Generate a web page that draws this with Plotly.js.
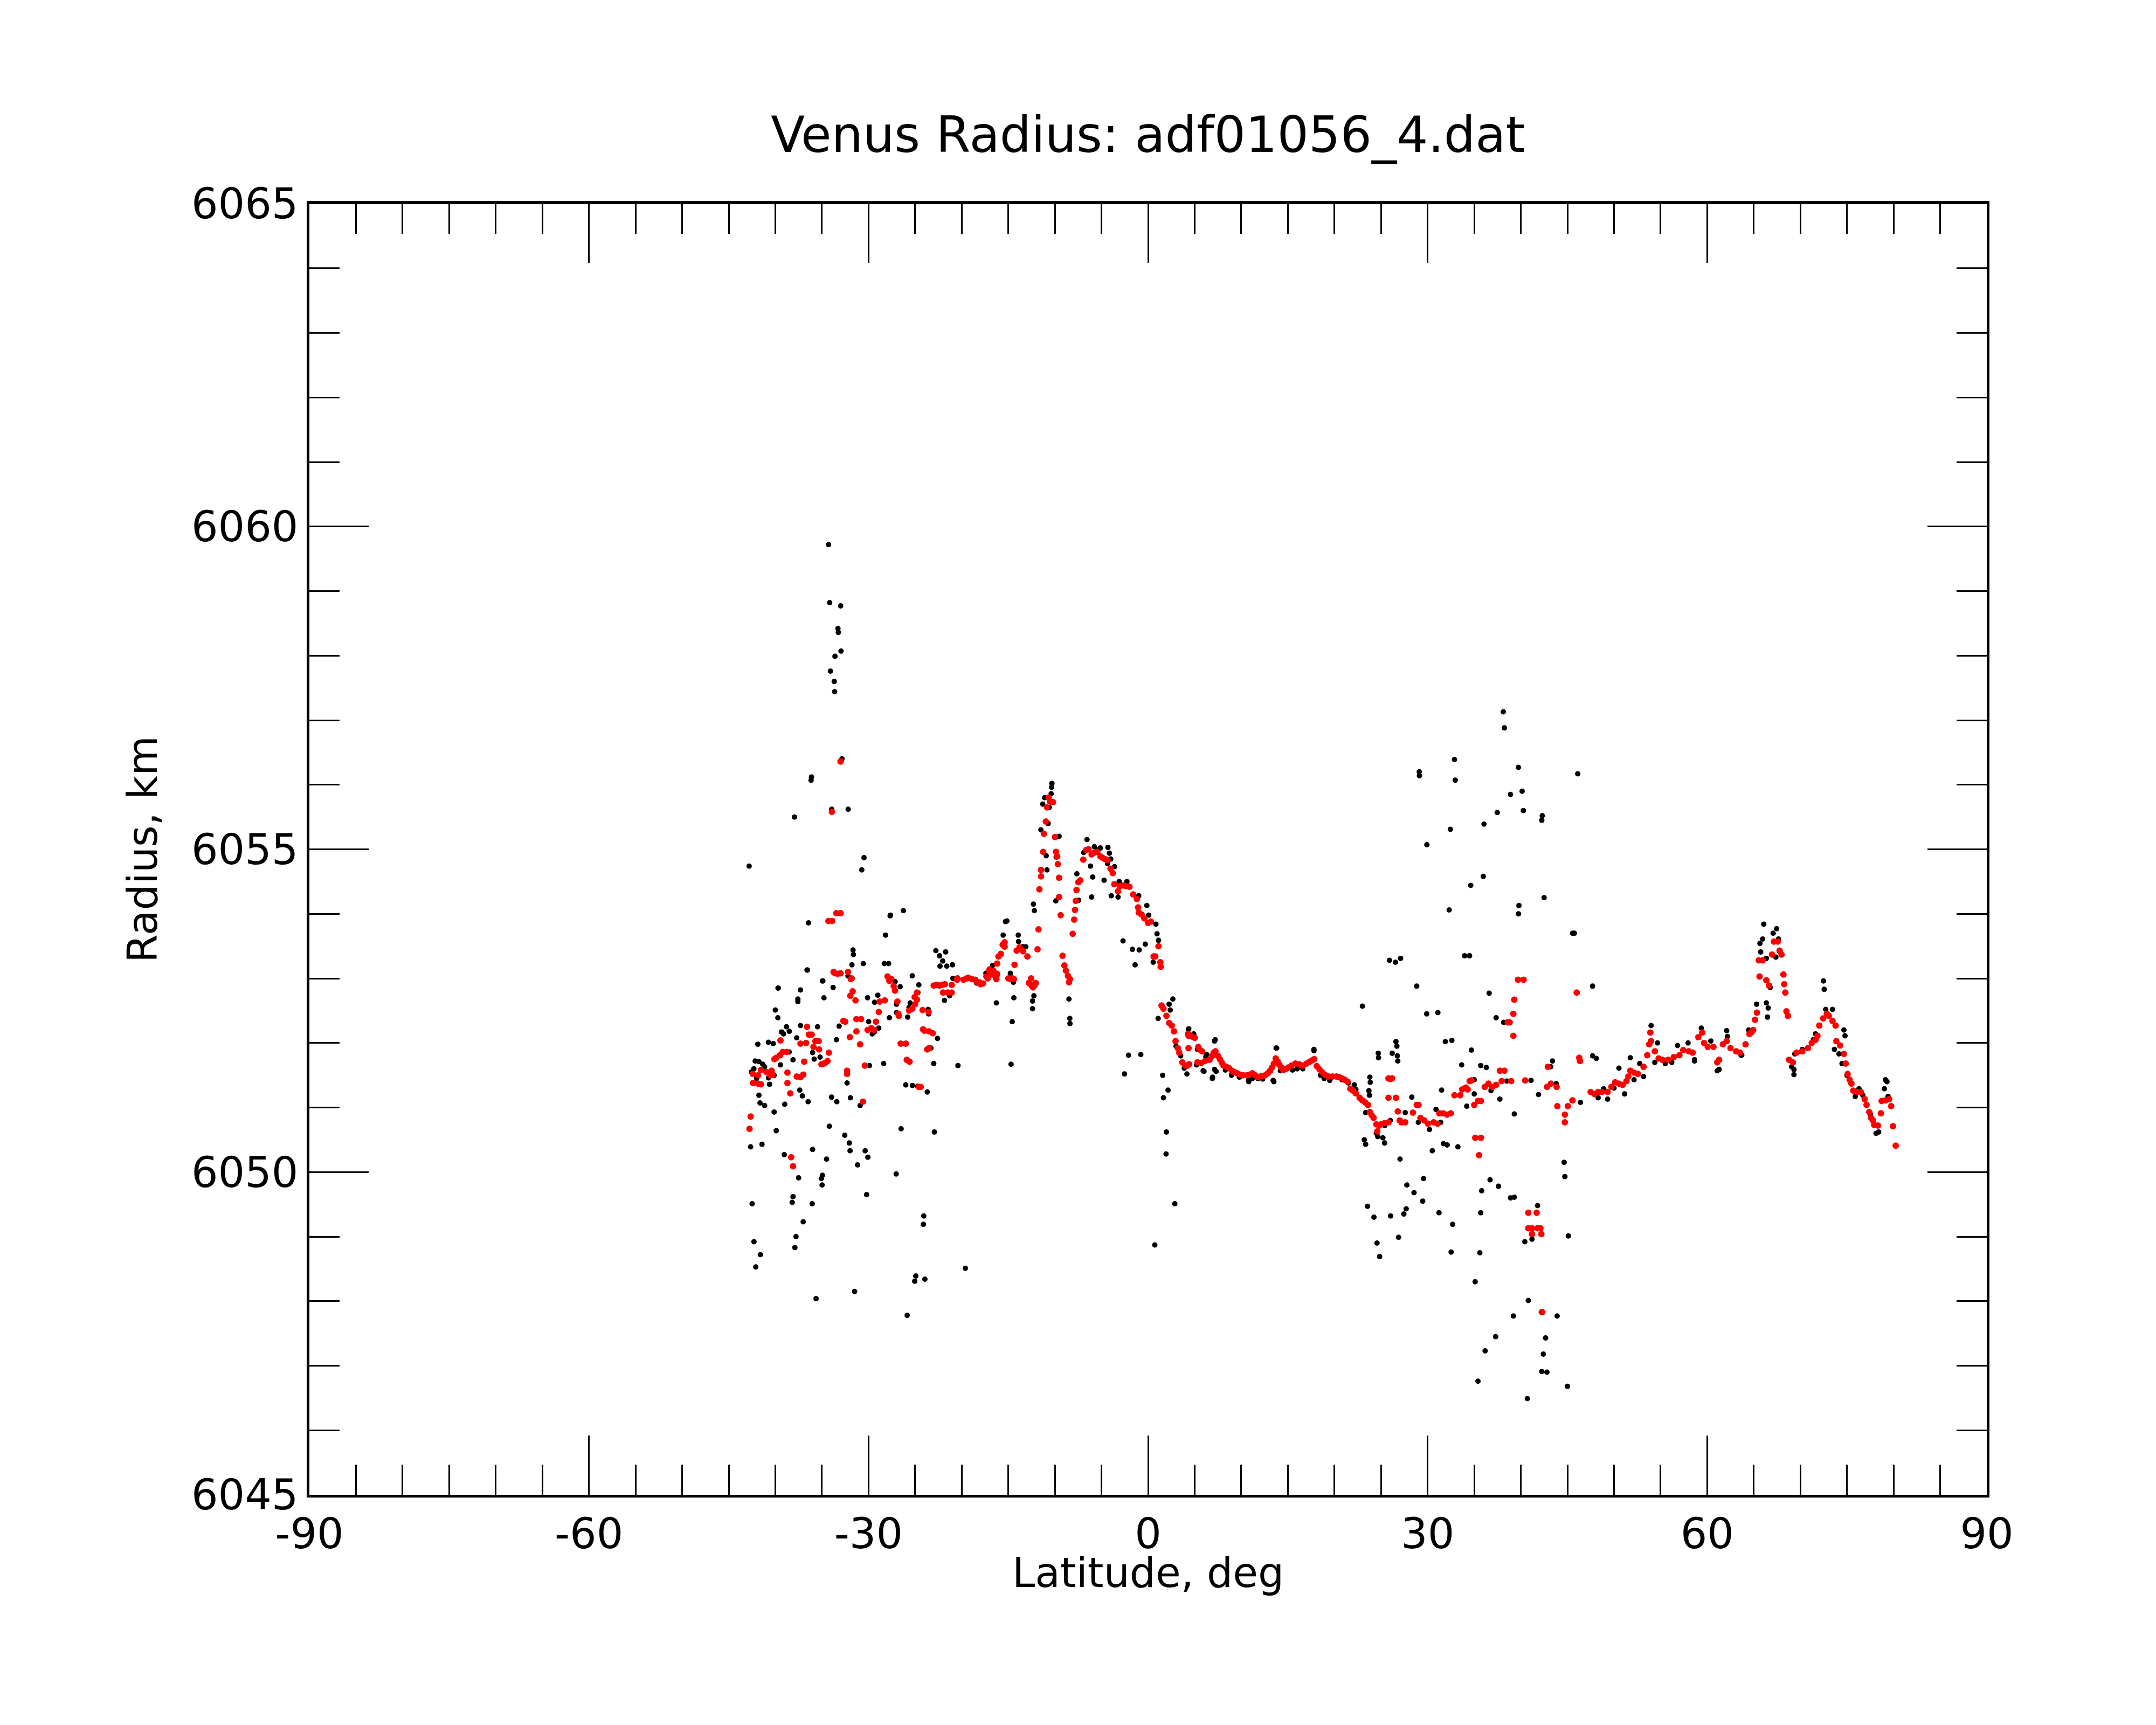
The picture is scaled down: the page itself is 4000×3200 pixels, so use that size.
<!DOCTYPE html>
<html>
<head>
<meta charset="utf-8">
<script src="https://cdn.plot.ly/plotly-3.0.1.min.js"></script>
<style>body{margin:0;background:#fff}</style>
</head>
<body>
<div id="chart" style="width:4000px;height:3200px"></div>
<script>
// Axis ticks
var latTicks = [-90, -60, -30, 0, 30, 60, 90]
var latTickText = ['-90', '-60', '-30', '0', '30', '60', '90']
var radTicks = [6045, 6050, 6055, 6060, 6065]

// Raw radius samples [latitude deg, radius km] (black)
var blackSouth = [
  [-34.29,6059.72],[-34.17,6058.82],[-32.99,6058.77],[-33.28,6058.42],[-33.24,6058.36],[-32.95,6058.07],[-33.6,6057.99],[-34.09,6057.76],[-33.68,6057.6],[-33.64,6057.44],[-32.85,6056.4],[-36.16,6056.07],[-36.12,6056.12],[-33.95,6055.62],[-32.18,6055.62],[-37.94,6055.5],[-42.81,6054.74],[-30.48,6054.87],[-30.72,6054.68],
  [-36.44,6053.86],[-27.68,6053.97],[-26.26,6054.05],[-28.17,6053.67],[-27.64,6053.98],[-31.66,6053.44],[-31.62,6053.37],[-31.78,6053.21],[-30.56,6053.23],[-28.3,6053.23],[-27.84,6053.23],[-22.77,6053.43],[-21.72,6053.41],[-22.37,6053.35],[-22.04,6053.27],[-20.99,6053.21],[-22.33,6053.19],[-21.6,6053.19],[-36.6,6053.13],[-36.55,6053.13],[-34.9,6052.96],[-39.71,6052.85],[-37.3,6052.82],[-25.3,6053.04],
  [-32.2,6053.04],[-34.94,6052.96],[-33.8,6052.86],[-39.69,6052.85],[-37.58,6052.68],[-37.58,6052.64],[-34.78,6052.7],[-30.1,6052.7],[-29.0,6052.74],[-29.35,6052.63],[-27.15,6052.95],[-26.6,6052.87],[-24.6,6052.9],[-24.7,6052.78],[-25.53,6052.62],[-25.65,6052.55],[-23.6,6052.52],[-23.55,6052.45],[-27.76,6052.39],[-27.0,6052.47],[-21.85,6052.66],[-21.3,6052.73],[-20.95,6053.0],
  [-40.0,6052.51],[-39.73,6052.39],[-37.3,6052.27],[-35.47,6052.25],[-37.7,6052.08],[-38.1,6051.74],[-35.83,6051.75],[-33.44,6052.05],[-33.15,6052.26],[-39.12,6052.14],[-39.33,6052.17],[-38.8,6052.25],[-38.5,6052.18],[-40.22,6051.99],[-40.74,6052.01],[-41.88,6051.98],[-38.51,6051.86],[-39.45,6051.66],[-42.57,6051.55],[-42.16,6051.72],[-41.76,6051.71],[-41.35,6051.67],[-41.15,6051.63],[-40.54,6051.52],[-40.13,6051.5],[-40.74,6051.46],[-40.62,6051.36],[-37.38,6051.27],[-37.1,6051.18],[-36.48,6051.09],[-41.76,6051.19],[-41.64,6051.07],[-41.15,6051.03],[-40.13,6050.93],[-38.99,6051.05],[-29.98,6052.33],[-29.38,6052.17],[-28.9,6052.23],[-29.6,6052.14],[-32.3,6051.38],[-29.9,6051.65],[-28.37,6051.68],[-26.0,6051.35],[-25.28,6051.34],[-24.72,6051.33],[-23.7,6051.24],[-23.0,6051.68],[-23.3,6051.92],[-22.6,6052.07],[-20.4,6051.65],[-30.9,6051.03],[-33.97,6051.16],[-33.4,6051.09],[-31.94,6051.15],[-27.0,6052.6],[-25.8,6052.4],[-42.3,6051.6],[-42.0,6051.45],[-36.0,6051.85],[-35.2,6051.78],
  [-42.65,6050.39],[-39.9,6050.64],[-41.43,6050.43],[-39.04,6050.27],[-37.5,6049.91],[-36.0,6050.35],[-34.2,6050.71],[-34.5,6050.2],[-32.55,6050.57],[-32.06,6050.45],[-31.98,6050.33],[-30.36,6050.33],[-30.07,6050.23],[-31.17,6050.11],[-34.94,6049.95],[-35.06,6049.9],[-34.98,6049.8],[-26.5,6050.67],[-22.93,6050.62],[-27.03,6049.97],[-38.1,6049.62],[-38.19,6049.53],[-42.49,6049.51],[-36.04,6049.51],[-30.2,6049.65],[-37.01,6049.23],[-37.78,6049.0],[-37.9,6048.83],[-42.29,6048.92],[-41.6,6048.72],[-42.1,6048.53],[-24.07,6049.32],[-24.11,6049.19],[-24.93,6048.39],[-25.04,6048.31],[-23.95,6048.34],[-31.49,6048.15],[-35.63,6048.04],[-25.85,6047.78]
]
var blackMid = [
  [-19.61,6048.51],[-18.4,6052.93],[-16.28,6052.62],[-14.45,6052.94],[-14.78,6053.08],[-17.4,6053.08],[-16.4,6053.02],[-12.4,6052.65],[-12.4,6052.53],[-12.25,6052.73],[-8.49,6052.68],[-8.4,6052.38],[-8.38,6052.3],[-14.58,6052.33],[-14.7,6051.67],[-14.4,6052.7],
  [-15.15,6053.89],[-15.3,6053.88],[-15.55,6053.67],[-15.4,6053.56],[-13.93,6053.67],[-13.9,6053.57],[-13.44,6053.49],[-13.12,6053.49],[-16.69,6053.2],[-12.3,6054.15],[-12.2,6054.05],
  [-10.32,6056.02],[-10.35,6055.96],[-11.1,6055.8],[-10.4,6055.86],[-11.3,6055.7],[-10.6,6055.65],[-10.72,6055.4],[-10.93,6054.9],[-10.85,6054.68],[-9.55,6055.2],[-9.86,6054.88],[-9.9,6054.2],[-11.5,6055.3],
  [-7.64,6054.62],[-7.45,6054.21],[-6.06,6054.26],[-6.18,6054.74],[-5.94,6054.57],[-4.72,6054.52],[-6.55,6055.15],[-5.77,6055.04],[-5.12,6055.02],[-4.31,6055.03],[-4.15,6054.94],[-4.35,6054.78],[-3.6,6054.73],[-4.0,6054.85],[-3.1,6054.5],[-2.27,6054.5],[-3.95,6054.28],[-3.22,6054.26],[-1.0,6054.28],[-6.9,6054.95],[-5.4,6054.99],
  [-0.13,6054.13],[0.07,6053.98],[0.84,6053.84],[0.96,6053.69],[1.12,6053.59],
  [-2.69,6053.58],[-1.68,6053.45],[-0.95,6053.44],[-1.39,6053.21],[-0.3,6053.53],[0.55,6053.25],
  [-2.1,6051.81],[-0.78,6051.82],[-2.53,6051.52],[1.57,6051.5],[2.14,6051.27],[1.65,6051.15],[1.97,6050.62],[1.93,6050.28],[2.87,6049.51],[0.72,6048.87],
  [1.08,6052.38],[2.26,6052.6],[2.66,6052.68],[2.38,6052.51],[4.37,6052.22],[4.9,6052.14],[5.3,6051.9],[6.2,6051.79],[5.91,6051.57],[7.13,6051.59],[3.88,6051.61],[4.17,6051.52],[7.13,6052.03],[13.74,6051.92],[17.8,6051.9],[10.78,6051.42],[13.42,6051.42],[6.92,6051.47],[8.95,6051.5],[11.8,6051.45],[14.2,6051.57],[16.0,6051.6],[18.5,6051.5],[19.5,6051.42],[9.8,6051.47],[12.3,6051.44],[15.5,6051.58],[3.0,6051.95],[3.5,6051.8],
  [13.5,6051.4],[10.8,6051.4],[6.9,6051.45],[7.3,6051.56],[13.8,6051.92],[17.8,6051.88],[7.2,6052.05],[4.34,6052.21],[6.0,6051.56],[5.2,6051.66],[6.3,6051.82],[8.3,6051.58],[11.2,6051.45],[16.6,6051.6],[18.9,6051.45]
]
var blackNorth = [
  [23.84,6051.39],[23.76,6051.19],[23.35,6050.92],[24.65,6050.55],[22.13,6051.35],[22.3,6051.28],[23.0,6052.57],[21.5,6051.38],[20.8,6051.43],
  [24.7,6051.84],[26.2,6051.84],[26.6,6052.02],[26.75,6051.8],[23.8,6051.47],[23.7,6051.26],[23.2,6050.5],[25.2,6050.53],[24.5,6050.6],
  [38.12,6057.13],[38.24,6056.88],[32.88,6056.39],[32.96,6056.07],[29.1,6056.2],[29.12,6056.14],[39.74,6056.27],[46.11,6056.17],[38.89,6055.85],[40.14,6055.9],[40.27,6055.6],[37.47,6055.57],[36.05,6055.39],[42.3,6055.52],[42.25,6055.45],[32.44,6055.31],[29.92,6055.07],[35.97,6054.58],[34.63,6054.44],[42.5,6054.25],[32.31,6054.06],[39.8,6054.13],[39.75,6054.0],[45.55,6053.7],[45.75,6053.7],
  [25.9,6053.28],[26.55,6053.25],[27.1,6053.31],[33.97,6053.35],[34.5,6053.35],[47.7,6052.88],[28.83,6052.88],[36.6,6052.77],[29.9,6052.45],[31.1,6052.47],[26.7,6051.95],[37.35,6052.39],[38.15,6052.32],[31.9,6052.02],[32.6,6052.04],[34.7,6051.89],[24.73,6051.77],[26.8,6051.72],[33.65,6051.66],[35.7,6051.65],[36.3,6051.62],[43.2,6051.63],[43.4,6051.72],[47.7,6051.8],[48.1,6051.76],
  [28.3,6051.16],[31.5,6051.27],[30.9,6050.97],[31.4,6050.77],[30.2,6050.66],[29.0,6050.77],[27.6,6050.92],[34.2,6051.02],[35.0,6051.21],[35.0,6051.43],[36.8,6051.26],[37.75,6051.13],[38.5,6051.41],[41.1,6051.42],[39.3,6050.9],[41.9,6051.2],[43.8,6051.37],[46.4,6051.08],[25.4,6050.72],[26.0,6050.8],
  [23.35,6050.43],[25.38,6050.45],[27.04,6050.2],[30.5,6050.33],[31.7,6050.44],[32.1,6050.42],[33.25,6050.39],
  [23.55,6049.47],[24.24,6049.3],[26.03,6049.32],[26.88,6048.99],[24.57,6048.9],[24.85,6048.69],[27.45,6049.35],[27.7,6049.43],[27.77,6049.8],[28.54,6049.68],[29.47,6049.55],[29.56,6049.9],[31.22,6049.37],[32.68,6049.19],[32.52,6048.76],[35.6,6048.75],[35.7,6049.37],[35.1,6048.3],[35.4,6046.76],[36.7,6049.88],[37.6,6049.78],[35.8,6049.71],[38.9,6049.6],[39.3,6049.61],[40.43,6048.92],[41.2,6048.96],[41.8,6049.48],[44.65,6050.15],[44.73,6049.93],[45.1,6049.01],[40.8,6048.01],[39.2,6047.77],[42.2,6047.83],[43.9,6047.77],[37.3,6047.45],[36.17,6047.23],[42.66,6047.43],[42.42,6047.18],[42.25,6046.91],[42.8,6046.9],[45.0,6046.68],[40.7,6046.49]
]
var blackFar = [
  [48.3,6051.15],[49.31,6051.13],[51.14,6051.21],[52.15,6051.43],[53.17,6051.48],[54.38,6051.7],[58.64,6051.72],[61.08,6051.57],[63.71,6051.81],[48.9,6051.29],[47.9,6051.2],
  [50.53,6051.61],[51.75,6051.77],[52.76,6051.68],[53.98,6052.27],[54.67,6052.0],[56.82,6051.96],[57.95,6052.0],[58.64,6051.74],[59.37,6052.23],[60.39,6052.03],[62.09,6052.19],[62.17,6052.1],[63.63,6051.81],[64.45,6052.2],[61.28,6051.59],[55.5,6051.68],[56.2,6051.7],[50.0,6051.3],
  [66.07,6053.84],[65.66,6053.54],[65.95,6053.61],[65.74,6053.41],[66.35,6053.31],[66.76,6052.86],[66.47,6052.4],[66.55,6052.54],[67.08,6053.7],[67.45,6053.77],[67.65,6053.61],[67.37,6053.33],[66.35,6052.62],[65.3,6052.6],
  [69.31,6051.59],[69.31,6051.51],[69.07,6051.63],[72.48,6052.96],[72.56,6052.83],[72.72,6052.52],[73.45,6052.52],[74.67,6052.2],[74.79,6052.11],[73.65,6051.9],[74.14,6051.83],[74.47,6051.68],[76.29,6051.29],[76.7,6051.19],[75.89,6051.17],[79.13,6051.43],[79.29,6051.4],[79.01,6051.29],[79.41,6051.17],[78.12,6050.6],[78.4,6050.62],[69.4,6051.83],[70.2,6051.9],[71.4,6052.05],[71.63,6052.14],[75.0,6051.5],[77.5,6050.9]
]

// Filtered radius samples [latitude deg, radius km] (red)
var redSouth = [
  [-42.65,6050.86],[-42.77,6050.67],
  [-42.4,6051.52],[-41.85,6051.5],[-41.55,6051.58],[-40.95,6051.55],[-40.55,6051.5],[-40.4,6051.57],[-40.3,6051.51],
  [-42.4,6051.38],[-41.85,6051.37],[-41.55,6051.36],
  [-40.1,6051.75],[-39.9,6051.77],[-39.5,6051.81],[-39.2,6051.86],[-38.8,6051.86],[-39.45,6052.04],
  [-38.7,6051.54],[-38.7,6051.38],[-38.4,6051.22],
  [-37.7,6051.48],[-37.3,6051.47],[-37.0,6051.51],[-36.9,6051.71],
  [-38.3,6050.23],[-38.1,6050.09],
  [-36.6,6052.25],[-36.4,6052.13],[-36.1,6052.13],[-36.7,6052.0],[-37.3,6051.99],[-35.7,6052.03],[-35.35,6052.03],[-35.9,6051.94],[-35.3,6051.9],[-34.8,6051.68],[-34.4,6051.72],[-34.25,6051.85],[-34.65,6051.69],[-35.05,6051.67],
  [-32.7,6052.34],[-32.5,6052.33],[-31.3,6052.37],[-30.8,6052.37],[-31.3,6052.18],[-32.0,6052.09],[-30.9,6051.98],
  [-30.1,6052.2],[-29.7,6052.23],[-29.2,6052.33],[-29.4,6052.2],
  [-32.3,6051.57],[-32.3,6051.52],[-30.4,6051.65],[-30.6,6051.09],
  [-26.55,6051.99],[-26.0,6051.99],[-25.9,6051.74],[-25.6,6051.71],
  [-24.6,6051.32],[-24.4,6051.32],
  [-24.0,6052.19],[-23.5,6052.18],[-23.1,6052.15],[-23.7,6051.9],[-23.5,6051.92],
  [-28.8,6052.64],[-28.25,6052.66],[-28.9,6052.48],
  [-27.96,6053.03],[-27.76,6052.96],[-27.3,6052.88],[-27.16,6052.81],[-27.55,6052.99],
  [-26.9,6052.64],[-26.75,6052.42],[-26.8,6052.45],
  [-24.8,6052.67],[-25.0,6052.6],[-25.3,6052.53],[-25.65,6052.5],[-25.05,6052.71],[-24.8,6052.78],
  [-24.2,6052.51],[-24.15,6052.21],[-23.55,6052.48],
  [-33.6,6053.08],[-33.0,6053.08],[-32.2,6053.1],[-31.9,6052.99],[-33.75,6053.1],[-33.3,6053.07],
  [-31.7,6052.8],[-31.95,6052.73],[-31.4,6052.66],[-31.8,6053.0],
  [-34.3,6053.89],[-33.9,6053.89],[-33.45,6054.01],[-33.0,6054.01],
  [-33.0,6056.36],[-33.93,6055.58],
  [-23.0,6052.89],[-22.7,6052.9],[-22.4,6052.89],[-22.1,6052.9],[-21.8,6052.91],[-21.5,6052.78],[-21.07,6052.9],[-21.07,6052.78],[-22.0,6052.78],[-20.5,6052.98]
]
var redMid = [
  [-20.46,6053.0],[-19.8,6052.98],[-19.45,6053.0],[-19.3,6053.01],[-18.9,6052.99],[-18.55,6052.98],[-18.4,6052.95],[-18.1,6052.94],[-18.0,6052.91],[-17.7,6052.92],[-17.35,6053.03],[-17.2,6053.0],[-17.05,6053.12],[-16.8,6053.06],[-16.6,6053.12],[-16.28,6053.03],[-16.28,6052.99],[-16.2,6053.07],
  [-17.0,6053.14],[-16.2,6053.23],[-15.8,6053.38],[-16.05,6053.34],[-15.6,6053.52],[-15.45,6053.54],[-15.39,6053.56],[-15.39,6053.49],
  [-15.0,6053.0],[-14.8,6052.99],[-14.55,6053.0],[-14.4,6052.99],[-14.33,6053.21],
  [-14.1,6053.43],[-13.8,6053.48],[-13.4,6053.42],[-12.95,6053.34],
  [-12.8,6052.93],[-12.55,6053.0],[-12.5,6052.89],[-12.35,6052.86],[-12.2,6052.89],[-12.15,6052.91],[-12.05,6052.93],
  [-11.86,6053.45],[-11.76,6053.76],[-11.66,6054.38],[-11.49,6054.58],[-11.49,6054.68],[-11.25,6054.96],[-11.17,6055.24],[-10.97,6055.43],[-10.85,6055.65],[-10.68,6055.8],[-10.52,6055.74],[-10.2,6055.73],
  [-9.99,6055.19],[-9.87,6054.96],[-9.75,6054.89],[-9.68,6054.77],[-9.55,6054.56],[-9.55,6054.26],[-9.38,6053.98],[-9.18,6053.35],[-8.98,6053.2],[-8.82,6053.12],[-8.6,6053.04],[-8.49,6052.94],[-8.38,6052.99],
  [-8.09,6053.69],[-7.93,6053.91],[-7.84,6054.06],[-7.76,6054.2],[-7.68,6054.37],[-7.48,6054.49],[-7.28,6054.52],[-6.95,6054.84],
  [-6.63,6054.99],[-6.39,6055.0],[-6.06,6054.92],[-5.75,6054.95],[-5.45,6054.96],[-5.12,6054.89],[-4.9,6054.87],[-4.64,6054.85],[-4.36,6054.83],
  [-4.03,6054.7],[-3.79,6054.63],[-3.62,6054.46],[-3.22,6054.35],[-3.0,6054.43],[-2.7,6054.44],[-2.4,6054.43],[-2.0,6054.42],
  [-1.6,6054.3],[-1.2,6054.23],[-1.07,6054.1],[-1.0,6054.02],[-0.7,6053.99],[-0.4,6053.93],[0.0,6053.86],[0.3,6053.88],
  [0.6,6053.34],[0.77,6053.34],[1.12,6053.5],[1.32,6053.25],[1.35,6053.18],
  [1.45,6052.58],[1.65,6052.53],[1.97,6052.42],[2.26,6052.31],[2.54,6052.27],[2.78,6052.18],[2.95,6052.03],[3.19,6051.92],[3.35,6051.85],[3.68,6051.7],[4.0,6051.65],[4.24,6051.65],
  [4.29,6052.14],[4.34,6052.11],[4.69,6052.1],[5.01,6052.08],[5.39,6051.94],[5.5,6051.9],[5.79,6051.87],[4.41,6051.67],[4.34,6051.92],
  [5.3,6051.7],[5.7,6051.69],[6.11,6051.72],[6.6,6051.74],[6.9,6051.8],
  [7.05,6051.85],[7.23,6051.87],[7.5,6051.8],[7.7,6051.75],[7.9,6051.7],[8.1,6051.65],[8.4,6051.63],[8.68,6051.61],[9.0,6051.57],[9.26,6051.55],[9.55,6051.53],[9.84,6051.51],[10.2,6051.5],[10.6,6051.5],[10.9,6051.51],[11.2,6051.53],[11.5,6051.5],[11.8,6051.47],[12.2,6051.49],[12.56,6051.5],[12.85,6051.53],[13.1,6051.57],[13.3,6051.62],[13.5,6051.68],[13.7,6051.76],[13.9,6051.71],[14.1,6051.66],[14.3,6051.62],[14.5,6051.58],[14.8,6051.6],[15.05,6051.62],[15.4,6051.65],[15.8,6051.68],[16.2,6051.67],[16.6,6051.65],[17.0,6051.68],[17.35,6051.71],[17.6,6051.73],[17.83,6051.75],[18.1,6051.64],[18.4,6051.59],[18.7,6051.54],[19.05,6051.5],[19.4,6051.48],[19.8,6051.48]
]
var redNorth = [
  [20.2,6051.48],[20.5,6051.47],[20.8,6051.45],[21.1,6051.43],[21.4,6051.4],[21.7,6051.29],[22.0,6051.26],[22.3,6051.22],[22.7,6051.15],[23.0,6051.11],[23.3,6051.08],[23.6,6051.04],[23.8,6050.93],[24.0,6050.88],[24.2,6050.84],[24.5,6050.74],[24.6,6050.63],[24.8,6050.72],[25.0,6050.74],[25.4,6050.76],[25.8,6050.77],
  [25.8,6051.45],[26.0,6051.44],[26.19,6051.45],[25.8,6051.15],[26.6,6051.15],
  [26.8,6050.94],[27.0,6050.8],[27.2,6050.77],[27.6,6050.77],[28.42,6050.92],[28.83,6051.04],[29.03,6051.04],[29.23,6050.84],[29.64,6050.8],[30.04,6050.75],[30.65,6050.77],[31.06,6050.75],[31.26,6050.91],[31.67,6050.91],[32.07,6050.89],[32.48,6050.91],[32.88,6051.19],[33.49,6051.19],[33.7,6051.28],[34.1,6051.31],[34.3,6051.28],[34.51,6051.41],[34.7,6051.42],
  [35.0,6051.04],[35.4,6051.1],[35.72,6051.1],
  [35.11,6050.53],[35.72,6050.53],[35.52,6050.26],
  [36.13,6051.32],[36.53,6051.37],[36.94,6051.32],[37.35,6051.35],[37.75,6051.57],[38.24,6051.57],[37.95,6051.41],[38.97,6051.41],[40.47,6051.42],
  [38.6,6052.32],[38.8,6052.32],[39.2,6052.11],[39.2,6052.45],[39.3,6052.67],[39.7,6052.98],[40.3,6052.98],
  [40.8,6049.37],[41.7,6049.37],[40.8,6049.13],[41.2,6049.13],[41.8,6049.13],[42.1,6049.13],[41.2,6049.04],[42.2,6049.04],[42.3,6047.83],
  [42.9,6051.63],[42.82,6051.32],[43.23,6051.37],[43.84,6051.32],[43.92,6051.02],[44.73,6050.89],[44.73,6050.77],[45.05,6051.02],[45.54,6051.11],
  [46.0,6052.78],[46.27,6051.77],[46.35,6051.72]
]
var redFar = [
  [47.49,6051.24],[47.89,6051.21],[48.3,6051.24],[48.7,6051.24],[49.31,6051.24],[49.72,6051.32],[50.12,6051.39],[50.53,6051.37],[50.93,6051.35],[51.34,6051.41],[51.54,6051.48],[51.75,6051.57],[52.15,6051.54],[52.56,6051.52],[53.17,6051.63],[53.57,6051.81],[53.78,6051.98],[53.9,6052.16],[53.98,6052.03],[54.38,6051.87],[54.79,6051.76],[55.2,6051.74],[55.8,6051.74],[56.41,6051.78],[57.02,6051.81],[57.43,6051.89],[58.04,6051.87],[58.44,6051.85],[59.05,6052.09],[59.46,6052.16],[59.66,6052.0],[60.06,6051.94],[60.67,6051.94],[61.08,6051.7],[61.28,6051.74],[61.69,6051.98],[62.09,6052.03],[62.5,6051.92],[63.1,6051.87],[63.51,6051.85],[64.12,6051.98],[64.53,6052.14],[64.73,6052.16],[64.93,6052.2],
  [65.13,6052.36],[65.34,6052.47],[65.54,6053.28],[65.62,6053.03],[65.95,6053.28],[66.35,6052.97],[66.64,6052.89],[66.96,6053.37],[67.16,6053.57],[67.57,6053.57],[67.77,6053.43],[67.98,6053.37],[68.18,6053.06],[68.26,6052.91],[68.38,6052.78],[68.5,6052.49],[68.66,6052.42],
  [68.79,6051.74],[69.19,6051.7],[69.6,6051.85],[70.2,6051.87],[70.81,6051.92],[71.22,6052.0],[71.63,6052.05],[71.83,6052.11],[72.03,6052.27],[72.44,6052.38],[72.84,6052.45],[73.05,6052.42],[73.45,6052.34],[73.78,6052.27],[73.86,6052.03],[74.26,6051.96],[74.67,6051.83],[74.87,6051.68],[75.07,6051.52],[75.28,6051.43],[75.48,6051.37],[75.68,6051.26],[76.09,6051.24],[76.49,6051.24],[76.9,6051.13],[77.1,6051.04],[77.39,6050.93],[77.59,6050.84],[77.79,6050.8],[77.92,6050.73],[78.32,6050.72],
  [78.64,6050.91],[78.72,6051.1],[79.13,6051.11],[79.53,6051.13],[79.74,6051.02],[79.94,6050.71],[80.23,6050.41]
]

var black = blackSouth.concat(blackMid, blackNorth, blackFar)
var red = redSouth.concat(redMid, redNorth, redFar)

var rawTrace = {
  x: black.map(p => p[0]),
  y: black.map(p => p[1]),
  mode: 'markers',
  type: 'scatter',
  marker: {color: 'black', size: 10},
  hoverinfo: 'x+y'
}
var filtTrace = {
  x: red.map(p => p[0]),
  y: red.map(p => p[1]),
  mode: 'markers',
  type: 'scatter',
  marker: {color: '#ff0000', size: 12},
  hoverinfo: 'x+y'
}

var axisStyle = {
  ticks: 'inside', ticklen: 110, tickwidth: 3, tickcolor: 'black',
  mirror: 'ticks', showline: true, linewidth: 5, linecolor: 'black',
  showgrid: false, zeroline: false, automargin: false,
  tickfont: {size: 78}
}

var layout = {
  width: 4000,
  height: 3200,
  margin: {l: 574, r: 314, t: 378, b: 427},
  paper_bgcolor: 'white',
  plot_bgcolor: 'white',
  showlegend: false,
  font: {family: 'DejaVu Sans, sans-serif', size: 75, color: 'black'},
  title: {
    text: 'Venus Radius: adf01056_4.dat',
    font: {size: 92},
    xref: 'paper', x: 0.5, xanchor: 'center',
    yref: 'container', y: 1 - 250 / 3200, yanchor: 'middle'
  },
  xaxis: Object.assign({}, axisStyle, {
    range: [-90, 90],
    tickvals: latTicks,
    ticktext: latTickText,
    minor: {dtick: 5, tick0: 0, ticks: 'inside', ticklen: 56, tickwidth: 3, tickcolor: 'black', showgrid: false}
  }),
  yaxis: Object.assign({}, axisStyle, {
    range: [6045, 6065],
    tickvals: radTicks,
    minor: {dtick: 1, tick0: 6045, ticks: 'inside', ticklen: 56, tickwidth: 3, tickcolor: 'black', showgrid: false},
    title: {text: 'Radius, km', font: {size: 76}, standoff: 40}
  }),
  // x axis title placed just under the tick labels
  annotations: [{
    text: 'Latitude, deg',
    xref: 'paper', x: 0.5, xanchor: 'center',
    yref: 'paper', y: -0.0605, yanchor: 'middle',
    showarrow: false,
    font: {size: 76}
  }]
}

Plotly.newPlot('chart', [rawTrace, filtTrace], layout, {displayModeBar: false, staticPlot: true})
</script>
</body>
</html>
